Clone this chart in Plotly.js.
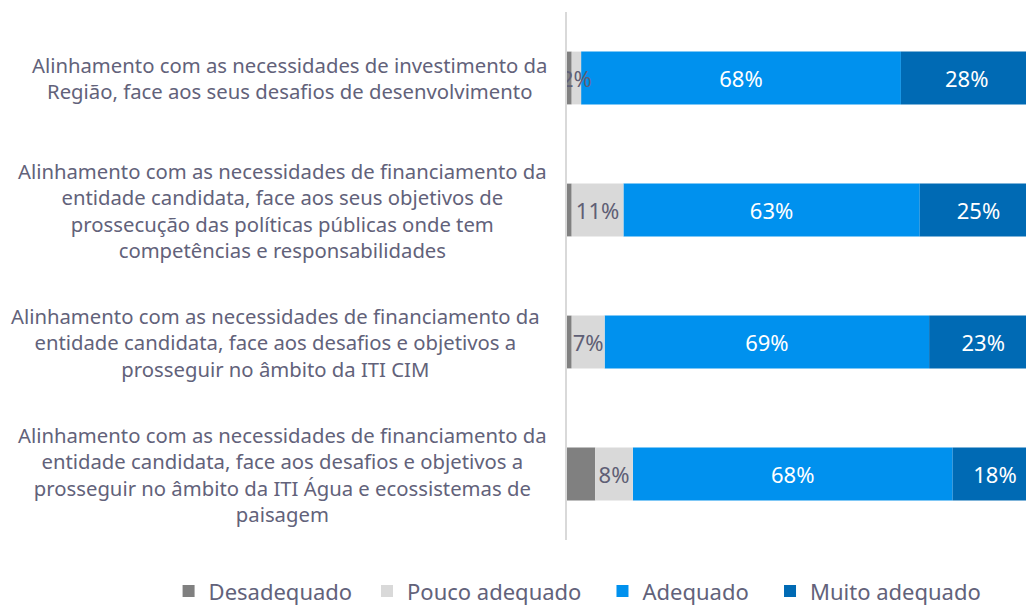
<!DOCTYPE html>
<html>
<head>
<meta charset="utf-8">
<script src="https://cdn.plot.ly/plotly-3.0.1.min.js"></script>
<style>html,body{margin:0;padding:0;background:#fff;}#chart{width:1026px;height:605px;}</style>
</head>
<body>
<div id="chart"></div>
<script>
const categories = [
  "Alinhamento com as necessidades de investimento da<br>Região, face aos seus desafios de desenvolvimento",
  "Alinhamento com as necessidades de financiamento da<br>entidade candidata, face aos seus objetivos de<br>prossecução das políticas públicas onde tem<br>competências e responsabilidades",
  "Alinhamento com as necessidades de financiamento da<br>entidade candidata, face aos desafios e objetivos a<br>prosseguir no âmbito da ITI CIM",
  "Alinhamento com as necessidades de financiamento da<br>entidade candidata, face aos desafios e objetivos a<br>prosseguir no âmbito da ITI Água e ecossistemas de<br>paisagem"
];
const seriesNames = ["Desadequado", "Pouco adequado", "Adequado", "Muito adequado"];
const desadequado = [1, 1, 1, 6];
const poucoAdequado = [2, 11, 7, 8];
const adequado = [68, 63, 69, 68];
const muitoAdequado = [28, 25, 23, 18];

const colors = ["#808080", "#d9d9d9", "#0091ee", "#006ab4"];
const textColors = ["#5f5f75", "#5f5f75", "#ffffff", "#ffffff"];
const fontFamily = "Noto Sans, sans-serif";
const txtColor = "#62627a";

const ids = categories.map((c, i) => "c" + i);
const allVals = [desadequado, poucoAdequado, adequado, muitoAdequado];

// cumulative bases so that the "Pouco adequado" labels can be drawn on top
const bases = allVals.map((vals, k) =>
  vals.map((v, i) => allVals.slice(0, k).reduce((s, arr) => s + arr[i], 0)));

const legendIds = ["legend", "legend2", "legend3", "legend4"];
const legendX = [-0.868, -0.4357, 0.0773, 0.4423];

const drawOrder = [0, 2, 3, 1];
const traces = drawOrder.map(k => ({
  type: "bar",
  orientation: "h",
  name: seriesNames[k],
  legend: legendIds[k],
  y: ids,
  x: allVals[k],
  base: bases[k],
  marker: {color: colors[k], line: {width: 0}},
  text: k === 0 ? null : allVals[k].map(v => v + "%"),
  textposition: k === 0 ? "none" : "inside",
  insidetextanchor: "middle",
  textangle: 0,
  constraintext: "none",
  textfont: {family: fontFamily, size: 22, color: textColors[k]},
  hoverinfo: "none"
}));

const labelShift = [-18, -18, -25, -18];
const annotations = categories.map((c, i) => ({
  xref: "paper", yref: "y",
  x: 0, y: ids[i],
  xanchor: "right", yanchor: "middle",
  xshift: labelShift[i],
  align: "center",
  text: c,
  showarrow: false,
  font: {family: fontFamily, size: 20.3, color: txtColor}
}));

const layout = {
  width: 1026, height: 605,
  margin: {l: 567, r: 0, t: 12, b: 65, autoexpand: false},
  barmode: "overlay",
  bargap: 0.6,
  paper_bgcolor: "#ffffff",
  plot_bgcolor: "#ffffff",
  font: {family: fontFamily, color: txtColor},
  uniformtext: {mode: "show", minsize: 22},
  xaxis: {range: [0, 97.6], visible: false, fixedrange: true},
  yaxis: {
    autorange: "reversed",
    showticklabels: false,
    showline: true, linecolor: "#d9d9d9", linewidth: 2,
    showgrid: false, zeroline: false, ticks: ""
  },
  showlegend: true,
  annotations: annotations
};
legendIds.forEach((id, k) => {
  layout[id] = {
    orientation: "h",
    x: legendX[k], xanchor: "left",
    y: -0.097, yanchor: "middle",
    font: {family: fontFamily, size: 22, color: txtColor},
    itemwidth: 30,
    bgcolor: "rgba(0,0,0,0)"
  };
});

Plotly.newPlot("chart", traces, layout, {displayModeBar: false, staticPlot: true});
</script>
</body>
</html>
